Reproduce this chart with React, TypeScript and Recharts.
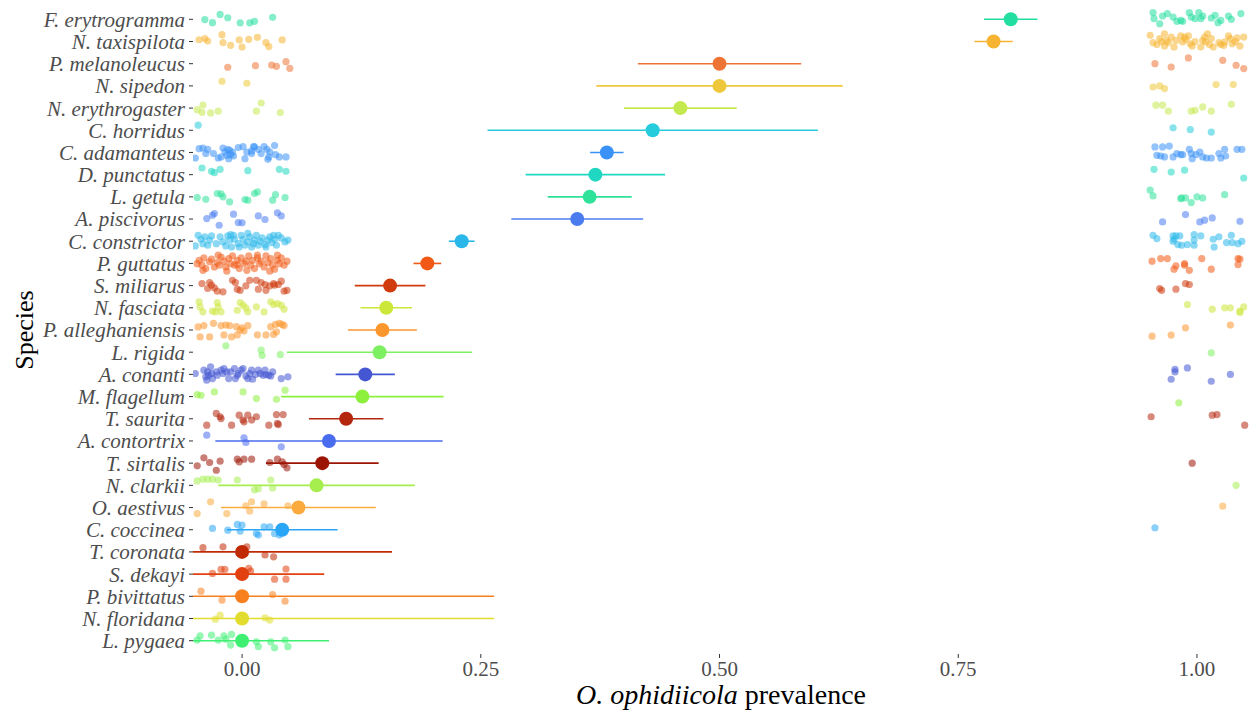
import React from "react";
import { ScatterChart, Scatter, XAxis, YAxis, ErrorBar } from "recharts";

const SPECIES = [
  "F. erytrogramma", "N. taxispilota", "P. melanoleucus", "N. sipedon", "N. erythrogaster",
  "C. horridus", "C. adamanteus", "D. punctatus", "L. getula", "A. piscivorus",
  "C. constrictor", "P. guttatus", "S. miliarus", "N. fasciata", "P. alleghaniensis",
  "L. rigida", "A. conanti", "M. flagellum", "T. saurita", "A. contortrix",
  "T. sirtalis", "N. clarkii", "O. aestivus", "C. coccinea", "T. coronata",
  "S. dekayi", "P. bivittatus", "N. floridana", "L. pygaea",
];

// point estimate of prevalence
const ESTIMATE = [
  0.805, 0.787, 0.5, 0.5, 0.459, 0.43, 0.382, 0.37, 0.364, 0.351,
  0.23, 0.194, 0.155, 0.151, 0.147, 0.144, 0.129, 0.126, 0.109, 0.091,
  0.084, 0.078, 0.059, 0.042, 0, 0, 0, 0, 0,
];

// half width of the 95% interval
const CI_HALF = [
  0.028, 0.02, 0.0855, 0.129, 0.059, 0.173, 0.0175, 0.073, 0.044, 0.069,
  0.0135, 0.0145, 0.037, 0.027, 0.036, 0.097, 0.031, 0.085, 0.039, 0.119,
  0.059, 0.103, 0.081, 0.058, 0.157, 0.086, 0.264, 0.264, 0.091,
];

const COLORS = [
  "#22dea0", "#f6b432", "#ee7436", "#eec83a", "#c4e94e",
  "#26cbdc", "#3a92f6", "#20d8c2", "#2ee29a", "#4a7cf0",
  "#2ab8ea", "#f05a16", "#d03a0c", "#cde63a", "#fb962c",
  "#7cf060", "#4456d2", "#8cf03c", "#b4260e", "#4a6cee",
  "#9c1404", "#a6ee4e", "#fbaa3e", "#2aa6f6", "#c02a04",
  "#e2400e", "#f8801e", "#e2dc2e", "#3ef072",
];

// jittered negatives around 0: [prevalence, row offset]
const NEGATIVE: number[][][] = [
  [[-0.039, 0.01], [-0.031, 0.15], [-0.023, -0.22], [-0.015, -0.07], [-0.002, 0.16], [0.008, 0.16], [0.013, 0.09], [0.032, -0.09]],
  [[-0.045, -0.08], [-0.039, -0.13], [-0.036, -0.02], [-0.021, -0.31], [-0.02, 0.05], [-0.012, 0.17], [-0.003, -0.07], [0, 0.25], [0.007, -0.1], [0.016, -0.19], [0.025, 0.05], [0.028, 0.23], [0.042, -0.07]],
  [[-0.015, 0.16], [0.014, 0.09], [0.031, 0.06], [0.036, 0.12], [0.046, -0.09], [0.05, 0.21]],
  [[-0.021, -0.21], [0.005, -0.12]],
  [[-0.047, 0.07], [-0.041, -0.14], [-0.042, 0.19], [-0.033, 0.22], [-0.025, 0.14], [0.015, 0.14], [0.02, -0.23], [0.04, 0.2]],
  [[-0.046, -0.23]],
  [[-0.045, -0.17], [-0.049, 0.25], [-0.041, -0.2], [-0.036, -0.14], [-0.038, 0.05], [-0.03, 0.05], [-0.025, 0.25], [-0.02, -0.2], [-0.018, -0.02], [-0.015, -0.14], [-0.013, -0.1], [-0.01, -0.02], [-0.016, 0.13], [-0.014, 0.28], [-0.012, 0.1], [-0.009, 0.16], [-0.004, -0.22], [0.001, -0.26], [0.005, -0.02], [0.003, 0.28], [0.01, 0.05], [0.012, -0.26], [0.013, -0.25], [0.017, -0.14], [0.02, 0.05], [0.023, -0.26], [0.026, -0.14], [0.028, 0.2], [0.029, -0.02], [0.034, -0.31], [0.035, 0.1], [0.039, 0.2], [0.046, 0.2], [0.027, 0.31], [0.01, -0.07], [-0.022, 0.2]],
  [[-0.042, -0.3], [-0.032, -0.15], [-0.029, -0.09], [-0.023, -0.24], [0.006, -0.18], [0.039, -0.24], [0.046, -0.15]],
  [[-0.047, 0.03], [-0.038, 0.11], [-0.026, -0.15], [-0.022, -0.13], [-0.02, 0], [-0.013, 0.23], [0.003, 0.12], [0.006, 0.15], [0.013, -0.15], [0.016, -0.22], [0.032, 0.15], [0.035, -0.1], [0.045, 0.03]],
  [[-0.037, -0.02], [-0.031, -0.17], [-0.029, -0.25], [-0.024, 0.28], [-0.009, -0.22], [-0.004, 0.16], [0, 0.17], [0.017, -0.14], [0.024, 0.02], [0.037, -0.28], [0.041, -0.14]],
  [[-0.046, -0.27], [-0.049, 0.21], [-0.043, -0.09], [-0.039, -0.2], [-0.034, -0.05], [-0.032, -0.24], [-0.027, 0.11], [-0.023, -0.2], [-0.02, 0.03], [-0.015, -0.24], [-0.012, -0.3], [-0.009, -0.27], [-0.008, -0.09], [-0.004, 0.11], [-0.001, -0.27], [0.001, -0.09], [0.003, 0.18], [0.006, 0.03], [0.008, -0.2], [0.01, 0.26], [0.012, 0.11], [0.013, -0.05], [0.015, -0.27], [0.017, 0.18], [0.019, 0], [0.021, -0.15], [0.024, 0.15], [0.027, -0.05], [0.029, -0.2], [0.031, 0.06], [0.034, -0.09], [0.036, 0.18], [0.038, -0.27], [0.041, -0.15], [0.045, 0.03], [0.048, -0.05], [-0.017, 0.21], [-0.036, 0.18], [-0.041, 0.11], [-0.011, 0.26], [-0.003, 0.26], [-0.013, -0.05], [0.006, -0.35], [0.025, 0.26], [0.033, -0.27]],
  [[-0.045, -0.14], [-0.042, 0.08], [-0.04, -0.25], [-0.038, 0.23], [-0.034, -0.07], [-0.032, -0.19], [-0.029, 0.16], [-0.026, -0.04], [-0.024, 0.08], [-0.022, -0.29], [-0.019, -0.1], [-0.017, 0.16], [-0.014, -0.22], [-0.012, 0.01], [-0.01, -0.34], [-0.008, 0.08], [-0.005, -0.14], [-0.003, 0.23], [-0.001, -0.25], [0.002, 0.01], [0.004, -0.1], [0.007, -0.34], [0.009, 0.08], [0.011, -0.14], [0.013, 0.23], [0.016, -0.25], [0.018, 0.01], [0.02, -0.1], [0.023, 0.16], [0.025, -0.34], [0.027, -0.04], [0.03, -0.22], [0.032, 0.08], [0.034, 0.26], [0.037, -0.14], [0.039, 0.01], [0.041, -0.25], [0.044, 0.08], [0.047, -0.1], [-0.041, 0.31], [-0.016, 0.35], [0.005, 0.31], [0.029, 0.35], [-0.025, -0.37], [-0.005, 0.05], [0.016, -0.37], [0.037, -0.37], [-0.047, 0.01]],
  [[-0.042, -0.09], [-0.034, -0.14], [-0.032, -0.02], [-0.029, 0.1], [-0.026, 0.25], [-0.02, 0.28], [-0.01, -0.24], [-0.007, -0.14], [-0.005, 0.16], [-0.002, 0.21], [0.004, 0.01], [0.008, -0.24], [0.015, -0.24], [0.017, 0.16], [0.02, -0.14], [0.024, -0.05], [0.029, 0.01], [0.033, -0.09], [0.034, -0.02], [0.038, -0.05], [0.041, -0.2], [0.044, 0.25], [0.047, 0.21], [0.025, 0.21], [-0.036, 0.13]],
  [[-0.045, -0.27], [-0.044, -0.04], [-0.041, 0.18], [-0.031, 0.15], [-0.028, 0.18], [-0.026, -0.24], [-0.025, -0.04], [-0.005, 0.11], [-0.002, -0.24], [0.001, -0.12], [0.004, 0], [0.006, 0.18], [0.015, -0.04], [0.023, 0.18], [0.03, -0.27], [0.033, -0.15], [0.037, -0.19], [0.041, -0.12], [0.044, 0.06], [-0.022, 0.18]],
  [[-0.046, -0.14], [-0.044, 0.31], [-0.04, -0.2], [-0.034, 0.31], [-0.03, -0.3], [-0.022, -0.2], [-0.019, 0.22], [-0.017, -0.22], [-0.013, -0.2], [-0.011, 0.31], [-0.006, -0.15], [-0.005, 0.22], [-0.002, 0], [0, -0.1], [0.002, 0.05], [0.006, -0.2], [0.016, 0.22], [0.025, 0.22], [0.03, -0.15], [0.033, 0.2], [0.035, -0.25], [0.036, 0.08], [0.039, -0.3], [0.042, -0.25], [0.044, -0.2]],
  [[-0.017, -0.29], [0.02, -0.09], [0.021, 0.14], [0.04, 0.11]],
  [[-0.049, -0.04], [-0.04, -0.19], [-0.038, 0.11], [-0.035, 0.04], [-0.033, -0.34], [-0.032, -0.04], [-0.031, 0.19], [-0.027, -0.11], [-0.026, 0.04], [-0.022, -0.19], [-0.02, -0.04], [-0.019, -0.26], [-0.016, -0.11], [-0.014, 0.19], [-0.012, -0.11], [-0.008, -0.26], [-0.005, 0.04], [-0.004, -0.04], [-0.001, -0.19], [0.001, -0.26], [0.004, 0.07], [0.006, 0.19], [0.008, -0.04], [0.01, -0.19], [0.014, 0.01], [0.017, -0.19], [0.019, -0.04], [0.022, 0.04], [0.024, -0.19], [0.028, 0.04], [0.03, 0.07], [0.032, -0.11], [0.041, 0.19], [0.048, 0.11], [-0.037, 0.26], [-0.007, 0.19], [0.011, 0.22], [-0.036, -0.11], [0.025, 0.01]],
  [[-0.047, -0.09], [-0.043, -0.06], [-0.029, -0.21], [0.001, -0.21], [0.015, 0.09], [0.036, 0.12], [0.045, -0.29]],
  [[-0.037, 0.29], [-0.027, -0.24], [-0.023, -0.09], [-0.022, -0.01], [-0.011, 0.29], [-0.003, -0.16], [0.001, 0.06], [0.002, 0.14], [0.006, -0.16], [0.01, 0.06], [0.015, -0.09], [0.028, 0.29], [0.036, -0.19], [0.037, 0.21], [0.043, -0.19], [0.038, 0.26]],
  [[-0.037, -0.26], [0.002, -0.14], [0.004, 0.07], [0.041, 0.26]],
  [[-0.047, 0.12], [-0.04, -0.24], [-0.034, -0.03], [-0.027, 0.32], [-0.023, -0.09], [-0.005, -0.18], [-0.003, -0.06], [0.002, -0.18], [0.01, -0.18], [0.029, -0.03], [0.037, -0.18], [0.042, -0.06], [0.044, 0.06], [0.047, 0.21]],
  [[-0.047, -0.2], [-0.041, -0.28], [-0.036, -0.28], [-0.031, -0.28], [-0.025, -0.24], [-0.005, -0.24], [0.013, 0.2], [0.017, 0.15], [0.03, -0.24], [0.032, 0.12]],
  [[-0.047, 0.27], [-0.033, -0.26], [-0.016, 0.27], [0.004, -0.08], [0.008, 0.16], [0.01, -0.26], [0.023, -0.17], [0.048, -0.08]],
  [[-0.031, -0.06], [-0.015, 0.02], [-0.005, -0.24], [-0.002, 0.06], [0, -0.21], [0.015, 0.17], [0.017, 0.24], [0.023, -0.13], [0.029, -0.13], [0.034, 0.17], [0.039, 0.24]],
  [[-0.041, -0.19], [-0.02, -0.23], [0.005, -0.23], [0.024, 0.14], [0.033, 0.22]],
  [[-0.031, -0.03], [-0.022, -0.21], [-0.018, -0.21], [0.007, -0.26], [0.009, -0.14], [0.034, 0.23], [0.046, 0.23], [0.046, -0.23]],
  [[-0.043, -0.23], [-0.021, 0.17], [0.032, -0.08], [0.045, 0.22]],
  [[-0.028, 0.03], [-0.023, -0.15], [0.024, -0.03], [0.029, 0.07]],
  [[-0.047, -0.03], [-0.044, -0.22], [-0.032, -0.25], [-0.025, -0.03], [-0.019, -0.22], [-0.017, -0.07], [-0.012, 0.2], [-0.011, -0.28], [0.015, 0.05], [0.017, 0.27], [0.03, 0.05], [0.034, 0.32], [0.045, -0.03], [0.048, 0.27]],
];

// jittered positives around 1: [prevalence, row offset]
const POSITIVE: number[][][] = [
  [[0.954, -0.3], [0.955, -0.03], [0.961, 0.2], [0.964, -0.15], [0.969, -0.26], [0.975, -0.1], [0.979, 0.09], [0.983, 0.05], [0.985, 0.09], [0.992, -0.3], [0.994, -0.1], [0.998, -0.03], [1.002, -0.3], [1.004, -0.03], [1.006, -0.15], [1.015, -0.06], [1.019, -0.18], [1.022, 0.15], [1.025, 0.05], [1.033, -0.15], [1.036, 0], [1.046, -0.26]],
  [[0.951, -0.28], [0.954, 0.05], [0.958, 0.14], [0.961, -0.13], [0.963, 0], [0.966, -0.35], [0.968, -0.05], [0.97, 0.05], [0.973, -0.2], [0.976, 0.25], [0.978, -0.05], [0.983, -0.25], [0.985, 0.02], [0.988, -0.1], [0.991, -0.25], [0.993, 0.1], [0.995, 0.2], [0.998, 0], [1.004, 0.25], [1.008, -0.2], [1.009, 0.02], [1.011, -0.35], [1.013, 0.14], [1.015, -0.13], [1.017, 0.25], [1.023, 0.05], [1.028, 0.17], [1.029, 0.02], [1.033, -0.25], [1.035, -0.13], [1.037, 0.1], [1.04, 0], [1.045, 0.2], [1.049, -0.2], [0.966, 0.2], [0.987, -0.2], [1.006, -0.05], [1.025, 0.14], [1.042, -0.16]],
  [[0.956, 0], [0.973, 0.15], [0.991, -0.26], [1.027, -0.15], [1.041, 0.07], [1.049, 0.22]],
  [[0.954, 0.05], [0.961, 0], [0.966, 0.12], [1.02, -0.06], [1.038, -0.06]],
  [[0.957, -0.13], [0.964, -0.13], [0.97, 0.14], [0.994, 0.14], [0.998, 0.1], [1.006, -0.05], [1.015, 0.14], [1.036, -0.17]],
  [[0.975, -0.11], [0.993, -0.03], [1.015, 0.08]],
  [[0.956, -0.25], [0.958, 0.13], [0.964, -0.25], [0.966, 0.2], [0.971, -0.29], [0.975, 0.2], [0.979, 0.05], [0.983, 0.1], [0.992, -0.14], [0.994, 0.05], [0.995, 0.28], [0.999, 0.1], [1.003, -0.02], [1.006, 0.2], [1.01, 0.25], [1.015, 0.25], [1.023, 0.05], [1.025, 0.25], [1.029, -0.14], [1.03, 0.16], [1.042, -0.14], [1.047, -0.14], [0.962, 0.16], [0.985, 0.1]],
  [[0.955, -0.24], [0.973, -0.12], [0.987, -0.2], [1.049, 0.15]],
  [[0.951, -0.3], [0.954, -0.04], [0.983, 0.08], [0.984, 0.05], [0.988, 0.05], [0.994, 0.26], [1.0, 0], [1.006, 0.05], [1.029, -0.1]],
  [[0.964, 0.13], [0.988, -0.2], [1.003, 0.13], [1.008, 0.05], [1.016, -0.05], [1.045, 0.1]],
  [[0.954, -0.27], [0.958, -0.12], [0.975, -0.24], [0.975, 0], [0.978, -0.24], [0.982, -0.24], [0.976, -0.09], [0.98, 0.15], [0.984, 0.18], [0.99, 0.15], [0.997, -0.3], [0.997, -0.05], [0.997, 0.18], [1.004, -0.24], [1.017, -0.09], [1.018, 0.26], [1.023, -0.2], [1.031, 0.06], [1.036, -0.27], [1.037, 0.06], [1.043, 0.11], [1.047, 0]],
  [[0.953, -0.1], [0.962, -0.22], [0.969, -0.22], [0.976, 0.26], [0.978, 0.11], [0.987, 0.01], [0.987, 0.08], [0.992, 0.31], [1.005, -0.22], [1.015, 0.26], [1.043, -0.22], [1.045, -0.19], [1.043, 0.05]],
  [[0.961, 0.13], [0.963, 0.21], [0.978, 0.16], [0.988, -0.09], [0.992, -0.05]],
  [[0.99, -0.15], [1.016, 0.06], [1.029, 0], [1.035, 0], [1.045, 0.21], [1.045, 0.15], [1.049, -0.04]],
  [[0.953, 0.28], [0.973, 0.23], [0.988, -0.1], [1.035, -0.22]],
  [[1.015, 0.03]],
  [[0.973, 0.22], [0.977, -0.11], [0.977, -0.23], [0.99, -0.29], [1.015, 0.31], [1.035, 0]],
  [[0.981, 0.28]],
  [[0.952, -0.09], [1.016, -0.16], [1.021, -0.19], [1.05, 0.29]],
  [],
  [[0.995, 0]],
  [[1.041, 0]],
  [[1.027, -0.06]],
  [[0.956, -0.09]],
  [], [], [], [], [],
];

const X_MIN = -0.0514;
const X_MAX = 1.0545;
const X_TICKS = [0, 0.25, 0.5, 0.75, 1];
const FONT = '"Liberation Serif", "Times New Roman", serif';

const jitterData: { x: number; y: number; color: string }[] = [];
SPECIES.forEach((_, i) => {
  [...NEGATIVE[i], ...POSITIVE[i]].forEach(([x, dy]) => {
    jitterData.push({ x, y: i + dy, color: COLORS[i] });
  });
});

const estimateData = SPECIES.map((name, i) => {
  const est = ESTIMATE[i];
  const lo = Math.max(est - CI_HALF[i], X_MIN);
  const hi = Math.min(est + CI_HALF[i], X_MAX);
  return { name, x: est, y: i, err: [est - lo, hi - est] };
});

const JitterDot = (props: any) => {
  const { cx, cy, payload } = props;
  if (cx == null || cy == null) return null;
  return <circle cx={cx} cy={cy} r={3.6} fill={payload.color} fillOpacity={0.55} />;
};

const YTitle = (props: any) => {
  const { viewBox } = props;
  const cy = viewBox.y + viewBox.height / 2;
  return (
    <text
      x={24}
      y={cy}
      transform={`rotate(-90, 24, ${cy})`}
      textAnchor="middle"
      dominantBaseline="central"
      fontFamily={FONT}
      fontSize={26}
      fill="#000"
    >
      Species
    </text>
  );
};

const XTitle = (props: any) => {
  const { viewBox } = props;
  const cx = viewBox.x + viewBox.width / 2;
  return (
    <text x={cx} y={viewBox.y + 50} textAnchor="middle" fontFamily={FONT} fontSize={28} fill="#000">
      <tspan fontStyle="italic">O. ophidiicola</tspan> prevalence
    </text>
  );
};

export default function App() {
  return (
    <div style={{ position: "absolute", left: 0, top: 0, width: 1249, height: 713, background: "#fff" }}>
      <ScatterChart width={1249} height={713} margin={{ top: 6, right: 0, bottom: 0, left: 0 }}>
        <XAxis
          type="number"
          dataKey="x"
          domain={[X_MIN, X_MAX]}
          allowDataOverflow
          ticks={X_TICKS}
          tickFormatter={(v: number) => v.toFixed(2)}
          height={59}
          axisLine={false}
          tickSize={4}
          tickMargin={3}
          tickLine={{ stroke: "#333" }}
          tick={{ fill: "#4d4d4d", fontSize: 21, fontFamily: FONT }}
          label={(p: any) => <XTitle {...p} />}
        />
        <YAxis
          type="number"
          dataKey="y"
          domain={[-0.6, 28.6]}
          allowDataOverflow
          reversed
          ticks={SPECIES.map((_, i) => i)}
          interval={0}
          tickFormatter={(v: number) => SPECIES[v]}
          width={193}
          axisLine={false}
          tickSize={4}
          tickMargin={4}
          tickLine={{ stroke: "#333" }}
          tick={{ fill: "#4d4d4d", fontSize: 21, fontFamily: FONT, fontStyle: "italic" }}
          label={(p: any) => <YTitle {...p} />}
        />
        <Scatter data={jitterData} shape={<JitterDot />} isAnimationActive={false} />
        {estimateData.map((d, i) => (
          <Scatter
            key={d.name}
            data={[d]}
            fill={COLORS[i]}
            isAnimationActive={false}
            shape={(p: any) => <circle cx={p.cx} cy={p.cy} r={7} fill={COLORS[i]} />}
          >
            <ErrorBar dataKey="err" direction="x" width={0} stroke={COLORS[i]} strokeWidth={1.6} />
          </Scatter>
        ))}
      </ScatterChart>
    </div>
  );
}
